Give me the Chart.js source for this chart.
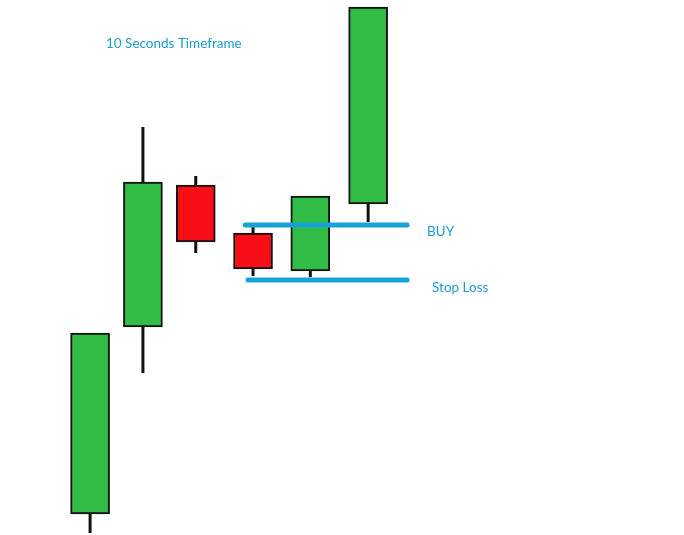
<!DOCTYPE html>
<html>
<head>
<meta charset="utf-8">
<script src="https://cdn.jsdelivr.net/npm/chart.js@4"></script>
<style>
  html, body { margin: 0; padding: 0; background: #fff; }
  #wrap { width: 684px; height: 535px; position: relative; }
</style>
</head>
<body>
<div id="wrap"><canvas id="candles"></canvas></div>
<script>
// candle data (price units, higher = up); x is the time slot as drawn
const candleX = [0, 0.95, 1.9, 2.93, 3.96, 5];
const opens  = [21, 208, 350, 302, 264, 331];
const closes = [202, 353, 293, 266, 339, 528];
const highs  = [202, 408, 359, 310, 339, 528];
const lows   = [2, 162, 282, 259, 258, 313];

// trade levels
const buyLevel = 310;
const stopLevel = 255;
const buySpan = [2.79, 5.7];
const stopSpan = [2.84, 5.7];

const upColor = '#31bd45';
const downColor = '#f70f17';
const levelColor = '#17a1d6';
const textColor = '#1d9bcf';

const bodyColors = candleX.map((_, i) => closes[i] >= opens[i] ? upColor : downColor);

const labelsPlugin = {
    id: 'tradeLabels',
    afterDraw(chart) {
        const ctx = chart.ctx;
        const x = chart.scales.x, y = chart.scales.y;
        ctx.save();
        ctx.fillStyle = textColor;
        ctx.font = '13.5px Lato';
        ctx.textBaseline = 'middle';
        ctx.fillText('10 Seconds Timeframe', 106, 44);
        ctx.fillText('BUY', x.getPixelForValue(6.06), y.getPixelForValue(buyLevel) + 7);
        ctx.fillText('Stop Loss', x.getPixelForValue(6.15), y.getPixelForValue(stopLevel) + 8);
        ctx.restore();
    }
};

new Chart(document.getElementById('candles').getContext('2d'), {
    type: 'bar',
    data: {
        datasets: [
            {
                label: 'Body',
                data: candleX.map((v, i) => ({ x: v, y: [opens[i], closes[i]] })),
                backgroundColor: bodyColors,
                borderColor: '#111',
                borderWidth: 2,
                borderSkipped: false,
                barThickness: 39,
                grouped: false,
                order: 1
            },
            {
                label: 'Wick',
                data: candleX.map((v, i) => ({ x: v, y: [lows[i], highs[i]] })),
                backgroundColor: '#111',
                borderWidth: 0,
                inflateAmount: 0,
                barThickness: 3,
                grouped: false,
                order: 2
            },
            {
                type: 'line',
                label: 'BUY',
                data: buySpan.map(v => ({ x: v, y: buyLevel })),
                borderColor: levelColor,
                borderWidth: 5,
                borderCapStyle: 'round',
                pointRadius: 0,
                clip: false,
                order: 0
            },
            {
                type: 'line',
                label: 'Stop Loss',
                data: stopSpan.map(v => ({ x: v, y: stopLevel })),
                borderColor: levelColor,
                borderWidth: 5,
                borderCapStyle: 'round',
                pointRadius: 0,
                clip: false,
                order: 0
            }
        ]
    },
    options: {
        animation: false,
        responsive: true,
        maintainAspectRatio: false,
        layout: { padding: 0 },
        plugins: { legend: { display: false }, tooltip: { enabled: false } },
        scales: {
            x: { type: 'linear', min: -1.62, max: 10.68, offset: false, display: false },
            y: { min: 0, max: 535, display: false }
        }
    },
    plugins: [labelsPlugin]
});
</script>
</body>
</html>
